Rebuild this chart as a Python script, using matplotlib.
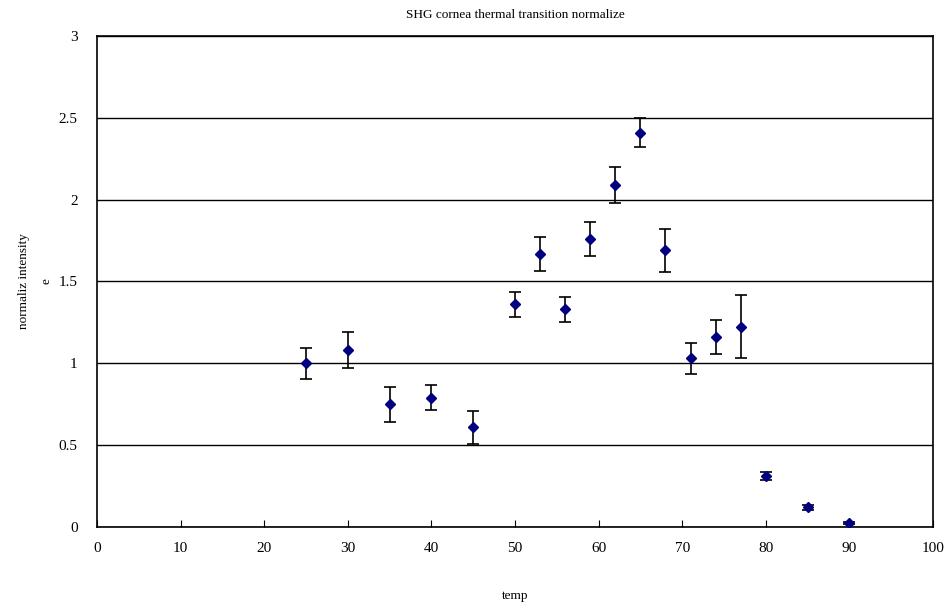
import numpy as np
import matplotlib.pyplot as plt

# temperature points and normalized SHG intensity
temp = [25, 30, 35, 40, 45, 50, 53, 56, 59, 62, 65, 68, 71, 74, 77, 80, 85, 90]
intensity = [1.00, 1.08, 0.75, 0.79, 0.61, 1.36, 1.67, 1.33, 1.76, 2.09, 2.41,
             1.69, 1.03, 1.16, 1.225, 0.31, 0.12, 0.024]
err = [0.093, 0.11, 0.107, 0.076, 0.10, 0.078, 0.103, 0.077, 0.102, 0.11, 0.087,
       0.13, 0.094, 0.102, 0.19, 0.023, 0.015, 0.006]

plt.rcParams['font.family'] = ['Liberation Serif', 'DejaVu Serif']

fig = plt.figure(figsize=(9.46, 6.02), dpi=100)
ax = fig.add_axes([0.1025, 0.1246, 0.8838, 0.8156])

ax.errorbar(temp, intensity, yerr=err, fmt='D', color='#000080', markersize=5,
            ecolor='black', elinewidth=1.2, capsize=4, capthick=1.2, zorder=3)

ax.set_xlim(0, 100)
ax.set_ylim(0, 3)
ax.set_xticks(np.arange(0, 101, 10))
ax.set_yticks([0, 0.5, 1, 1.5, 2, 2.5, 3])
ax.set_yticklabels(['0', '0.5', '1', '1.5', '2', '2.5', '3'])
ax.yaxis.grid(True, color='black', linewidth=1)
ax.set_axisbelow(True)

ax.tick_params(axis='x', direction='in', length=5, pad=11, labelsize=11)
ax.tick_params(axis='y', length=0, pad=14, labelsize=11)
for s in ax.spines.values():
    s.set_linewidth(1.2)

ax.set_title('SHG cornea thermal transition normalize', fontsize=9.5, pad=13)
ax.set_xlabel('temp', fontsize=9.5, labelpad=25)
ax.set_ylabel('normaliz intensity\ne', fontsize=9.5, labelpad=4, linespacing=2.2)

fig.savefig('out.png', dpi=100)
